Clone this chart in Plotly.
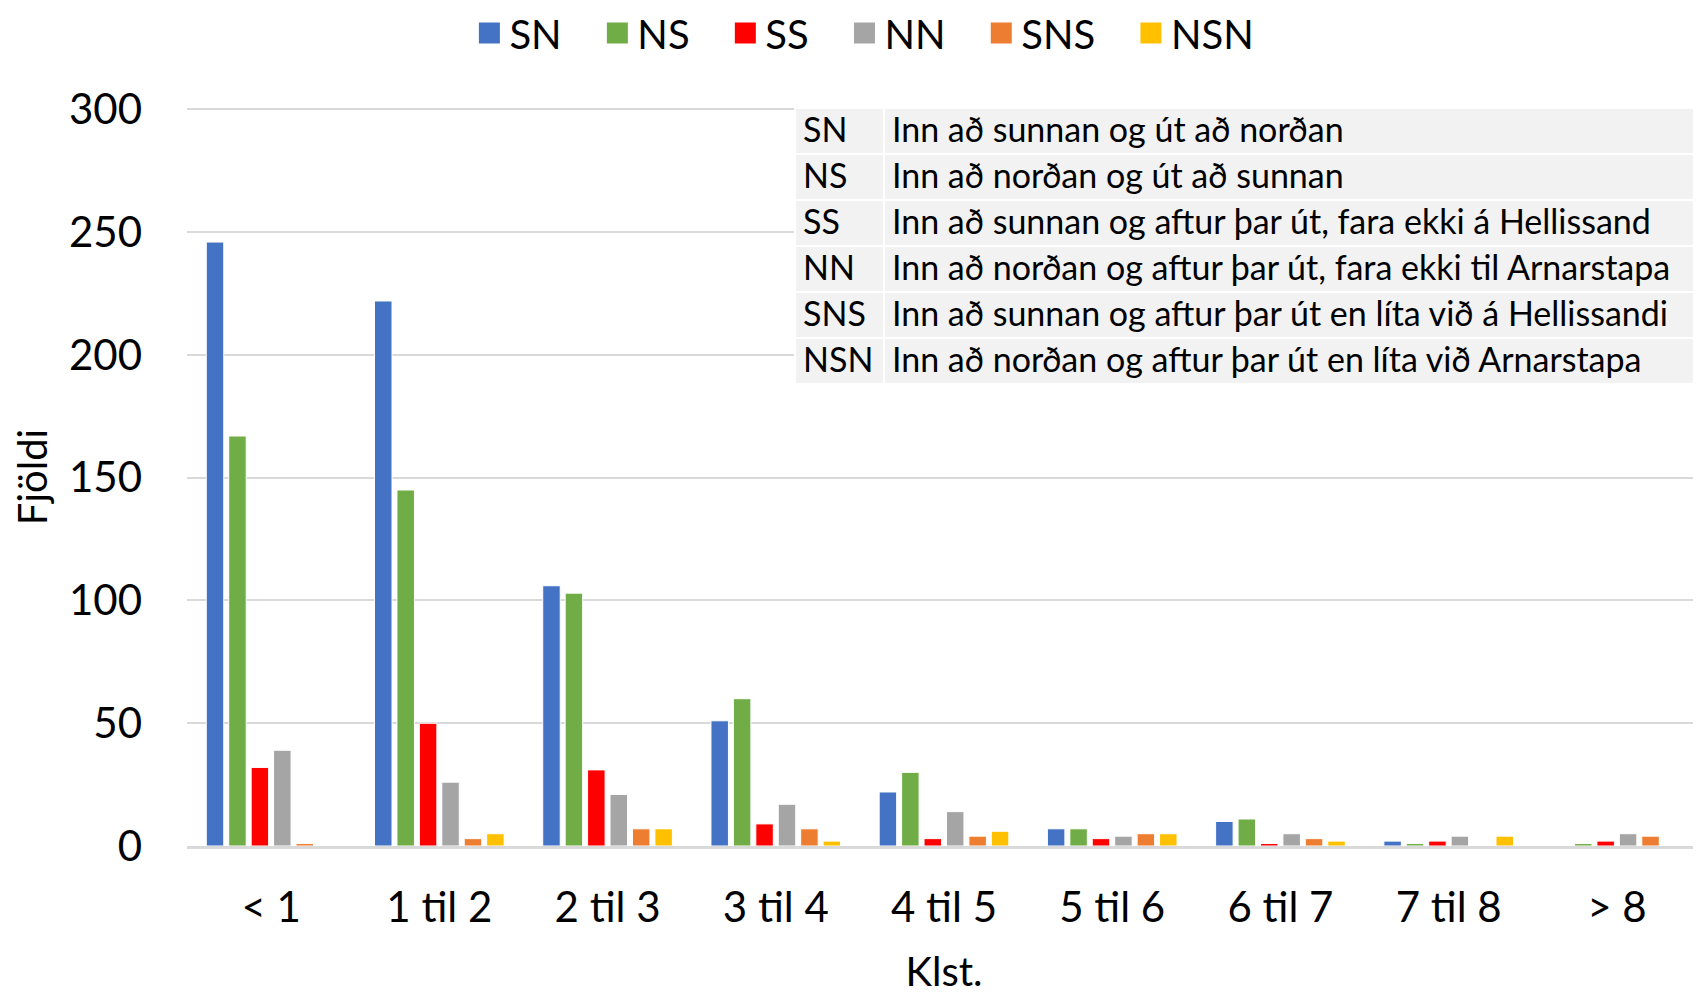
import plotly.graph_objects as go

categories = ["< 1", "1 til 2", "2 til 3", "3 til 4", "4 til 5", "5 til 6", "6 til 7", "7 til 8", "> 8"]

sn = [246, 222, 106, 51, 22, 7, 10, 2, 0]
ns = [167, 145, 103, 60, 30, 7, 11, 1, 1]
ss = [32, 50, 31, 9, 3, 3, 1, 2, 2]
nn = [39, 26, 21, 17, 14, 4, 5, 4, 5]
sns = [1, 3, 7, 7, 4, 5, 3, 0, 4]
nsn = [0, 5, 7, 2, 6, 5, 2, 4, 0]

series_names = ["SN", "NS", "SS", "NN", "SNS", "NSN"]
series_colors = ["#4472C4", "#70AD47", "#FF0000", "#A5A5A5", "#ED7D31", "#FFC000"]

codes = ["SN", "NS", "SS", "NN", "SNS", "NSN"]
descriptions = [
    "Inn að sunnan og út að norðan",
    "Inn að norðan og út að sunnan",
    "Inn að sunnan og aftur þar út, fara ekki á Hellissand",
    "Inn að norðan og aftur þar út, fara ekki til Arnarstapa",
    "Inn að sunnan og aftur þar út en líta við á Hellissandi",
    "Inn að norðan og aftur þar út en líta við Arnarstapa",
]

FONT = "Lato"
# page body has an 8px margin, so the figure is a bit smaller than the window
W, H = 1693, 987
L, R, T, B = 179, 0, 100, 149

fig = go.Figure()

for name, vals, col in zip(series_names, [sn, ns, ss, nn, sns, nsn], series_colors):
    fig.add_trace(go.Bar(
        x=categories, y=vals, name=name,
        marker=dict(color=col, line=dict(color="white", width=1)),
        showlegend=False))
    # legend entry with a bigger square swatch (nbsp pads the spacing)
    fig.add_trace(go.Scatter(
        x=[None], y=[None], mode="markers", name=name + "\u00a0" * 3,
        marker=dict(symbol="square", size=26, color=col, line=dict(color=col, width=5))))

# legend table in the upper right
cell_style = dict(fill_color="#F2F2F2", line=dict(color="white", width=2),
                  align="left", height=46,
                  font=dict(family=FONT, size=34, color="black"))
fig.add_trace(go.Table(
    domain=dict(x=[(787 - L) / (W - L - R), 1.0], y=[(H - B - 377) / (H - T - B), 1.0]),
    columnwidth=[89, 817],
    header=dict(values=[codes[0], descriptions[0]], **cell_style),
    cells=dict(values=[codes[1:], descriptions[1:]], **cell_style)))

fig.update_layout(
    template="none",
    width=W, height=H,
    margin=dict(l=L, r=R, t=T, b=B),
    paper_bgcolor="white", plot_bgcolor="white",
    font=dict(family=FONT, size=42, color="black"),
    barmode="group", bargap=0.2, bargroupgap=0.22,
    legend=dict(orientation="h", xref="container", yref="container",
                x=0.515, y=0.9747, xanchor="center", yanchor="middle",
                itemsizing="trace", font=dict(size=40)),
)

fig.update_xaxes(showgrid=False, showline=True, linecolor="#D9D9D9", linewidth=3,
                 ticks="", ticklabelstandoff=23,
                 title=dict(text="Klst.", standoff=30, font=dict(size=40)))
fig.update_yaxes(range=[0, 300.6], dtick=50, showgrid=True, gridcolor="#D9D9D9", gridwidth=2,
                 zeroline=False, showline=False, ticks="", ticklabelstandoff=44,
                 title=dict(text="Fjöldi", standoff=22, font=dict(size=40)))

fig.write_html("out.html")
